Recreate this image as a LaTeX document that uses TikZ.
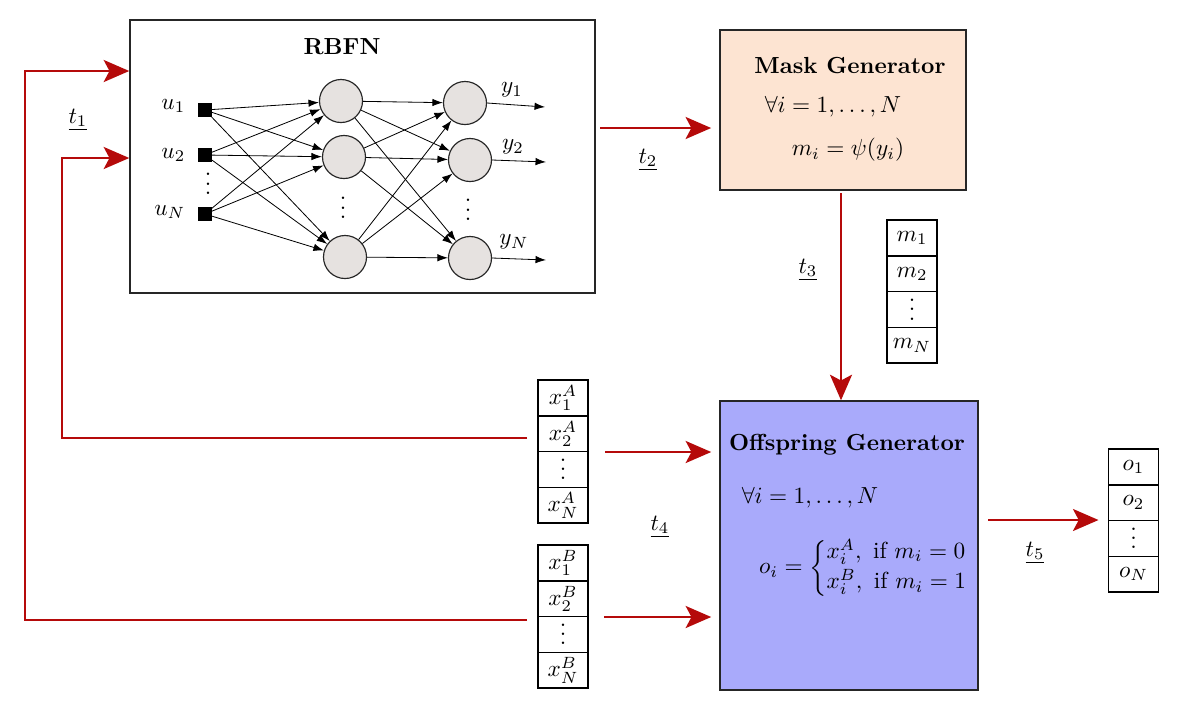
\documentclass[tikz,border=0pt]{standalone}
\usetikzlibrary{arrows.meta,calc}
\definecolor{arrred}{HTML}{B50A0A}
\definecolor{maskfill}{HTML}{FDE4D2}
\definecolor{offfill}{HTML}{A9AAFB}
\definecolor{neurfill}{HTML}{E6E2E0}
\newcommand{\myvdots}{\vbox{\baselineskip4pt\lineskiplimit0pt\hbox{.}\hbox{.}\hbox{.}}}
\begin{document}
\begin{tikzpicture}[x=0.43pt,y=-0.43pt,
 box/.style={draw=black!85, line width=0.6pt, inner sep=0pt},
 cell/.style={draw, line width=0.6pt, minimum width=21.5pt, minimum height=15.4pt, inner sep=0pt},
 ctext/.style={inner sep=0pt},
 redarrow/.style={draw=arrred, line width=0.9pt, -{Stealth[length=11pt,width=9.5pt,inset=2.5pt]}},
 neuron/.style={circle, draw=black!85, fill=neurfill, minimum size=18.5pt, inner sep=0pt, line width=0.5pt},
 inp/.style={fill=black, minimum size=5.6pt, inner sep=0pt},
 conn/.style={-{Latex[length=4.5pt,width=3.2pt]}, line width=0.35pt},
 lbl/.style={inner sep=1pt}
]
\useasboundingbox (0,0) rectangle (1182,708);

% ---------- RBFN ----------
\node[box, minimum width=200pt, minimum height=117.4pt] (rbfn) at (362.5,156.5) {};
\node[lbl] (rbfnt) at (342,47) {\bfseries RBFN};

\node[inp] (i1) at (205,110) {};
\node[inp] (i2) at (205,155) {};
\node[inp] (i3) at (205,214) {};
\node[lbl, anchor=east] (u1) at (188,106) {$u_1$};
\node[lbl, anchor=east] (u2) at (188,155) {$u_2$};
\node[lbl, anchor=east] (uN) at (188,212) {$u_N$};
\node[ctext] (udots) at (208,184) {\myvdots};

\node[neuron] (h1) at (341,101) {};
\node[neuron] (h2) at (344,157) {};
\node[neuron] (h3) at (345,257) {};
\node[ctext] (hdots) at (343,208) {\myvdots};

\node[neuron] (o1) at (465,103) {};
\node[neuron] (o2) at (470,160) {};
\node[neuron] (o3) at (470,258) {};
\node[ctext] (odots) at (468,210) {\myvdots};

\foreach \a in {i1,i2,i3}{\foreach \b in {h1,h2,h3}{\draw[conn] (\a) -- (\b);}}
\foreach \a in {h1,h2,h3}{\foreach \b in {o1,o2,o3}{\draw[conn] (\a) -- (\b);}}

\coordinate (y1e) at (545,107);
\coordinate (y2e) at (546,162);
\coordinate (y3e) at (546,260);
\draw[conn] (o1.east) -- (y1e);
\draw[conn] (o2.east) -- (y2e);
\draw[conn] (o3.east) -- (y3e);
\node[lbl] (y1) at (512,90) {$y_1$};
\node[lbl] (y2) at (513,147) {$y_2$};
\node[lbl] (yN) at (514,242) {$y_N$};

% ---------- Mask generator ----------
\node[box, fill=maskfill, minimum width=105.8pt, minimum height=68.8pt] (mask) at (843,110) {};
\node[lbl] (maskt) at (850,66) {\bfseries Mask Generator};
\node[lbl] (maskf) at (833,107) {$\forall i=1,\ldots,N$};
\node[lbl] (maskm) at (848,150) {$m_i=\psi(y_i)$};

% ---------- Offspring generator ----------
\node[box, fill=offfill, minimum width=110.9pt, minimum height=124.3pt] (off) at (849,545.5) {};
\node[lbl] (offt) at (847,445) {\bfseries Offspring Generator};
\node[lbl] (offf) at (810,498) {$\forall i=1,\ldots,N$};
\node[lbl] (offe) at (864,568) {$o_i=\left\{\begin{array}{@{}l@{}}x_i^A,\mbox{ if }m_i=0\\[1pt] x_i^B,\mbox{ if }m_i=1\end{array}\right.$};

% ---------- vectors ----------
\foreach \n/\x/\y in {m1/912/238, m2/912/273.75, m3/912/309.5, m4/912/345.25,
  a1/563/397.9, a2/563/433.6, a3/563/469.4, a4/563/505.1,
  b1/563/562.9, b2/563/598.6, b3/563/634.4, b4/563/670.1,
  p1/1133.5/466.9, p2/1133.5/502.6, p3/1133.5/538.4, p4/1133.5/574.1}
  {\node[cell] (\n) at (\x,\y) {};}

\node[ctext] (m1t) at (m1) {$m_1$};
\node[ctext] (m2t) at (m2) {$m_2$};
\node[ctext] (m3t) at (m3) {\myvdots};
\node[ctext] (m4t) at (m4) {$m_N$};

\node[ctext] (a1t) at (a1) {$x_1^A$};
\node[ctext] (a2t) at (a2) {$x_2^A$};
\node[ctext] (a3t) at (a3) {\myvdots};
\node[ctext] (a4t) at (a4) {$x_N^A$};

\node[ctext] (b1t) at (b1) {$x_1^B$};
\node[ctext] (b2t) at (b2) {$x_2^B$};
\node[ctext] (b3t) at (b3) {\myvdots};
\node[ctext] (b4t) at (b4) {$x_N^B$};

\node[ctext] (p1t) at (p1) {$o_1$};
\node[ctext] (p2t) at (p2) {$o_2$};
\node[ctext] (p3t) at (p3) {\myvdots};
\node[ctext] (p4t) at (p4) {$o_N$};

% ---------- red connectors ----------
\coordinate (sA) at (527,438);
\coordinate (cA) at (62,158);
\coordinate (sB) at (527,620);
\coordinate (cB) at (25,71);
\draw[redarrow] (sA) -| (cA) -- (cA -| rbfn.west);
\draw[redarrow] (sB) -| (cB) -- (cB -| rbfn.west);
\node[lbl] (t1) at (78,120) {$\underline{t_1}$};

\coordinate (s2) at (600,128);
\draw[redarrow, shorten >=3.5pt] (s2) -- (s2 -| mask.west);
\node[lbl] (t2) at (648,160) {$\underline{t_2}$};

\draw[redarrow] ([yshift=-1pt]mask.south -| 841,0) -- (off.north -| 841,0);
\node[lbl] (t3) at (808,270) {$\underline{t_3}$};

\coordinate (sa) at (605,452);
\coordinate (sb) at (604,617);
\draw[redarrow, shorten >=3.5pt] (sa) -- (sa -| off.west);
\draw[redarrow, shorten >=3.5pt] (sb) -- (sb -| off.west);
\node[lbl] (t4) at (660,527) {$\underline{t_4}$};

\coordinate (s5) at (988,520);
\draw[redarrow, shorten >=4pt] (s5) -- (s5 -| p1.west);
\node[lbl] (t5) at (1035,553) {$\underline{t_5}$};
\end{tikzpicture}
\end{document}
